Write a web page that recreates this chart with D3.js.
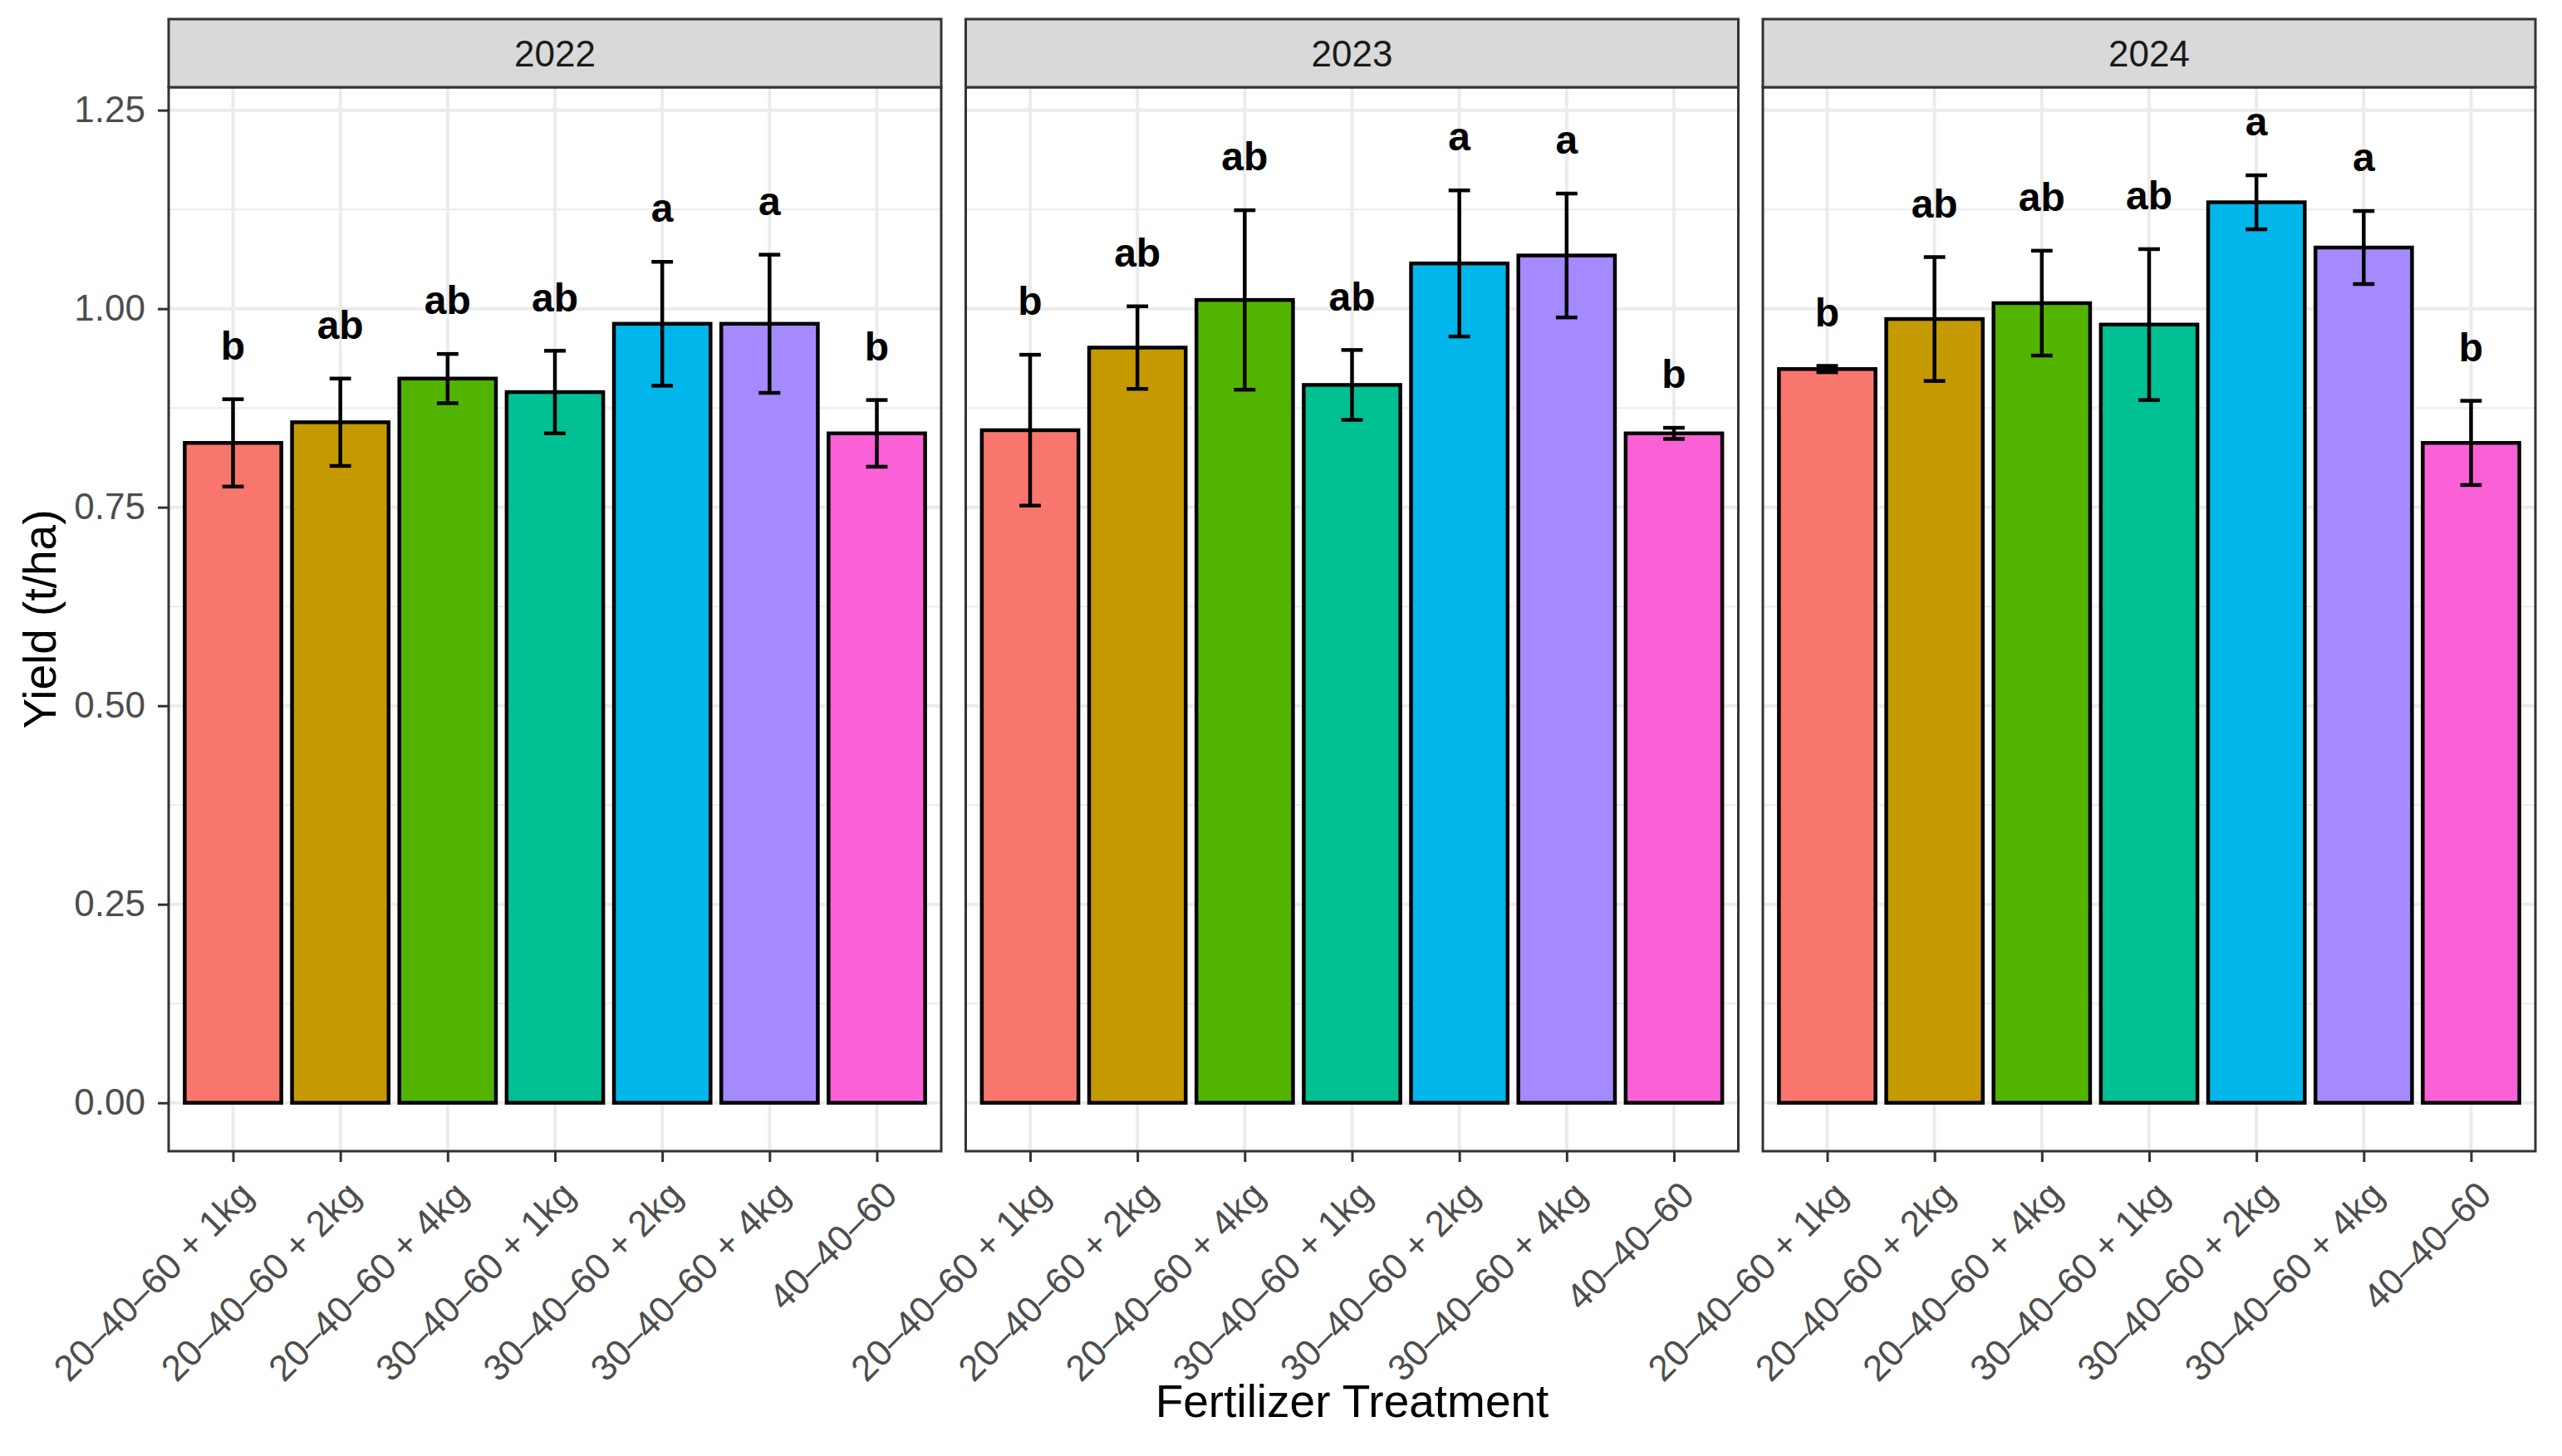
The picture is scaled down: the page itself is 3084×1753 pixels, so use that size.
<!DOCTYPE html>
<html lang="en"><head>
<meta charset="utf-8">
<title>Yield by fertilizer treatment</title>
<script src="https://cdn.jsdelivr.net/npm/d3@7"></script>
<style>
  body { margin: 0; background: #fff; }
  text { font-family: "Liberation Sans", Arial, Helvetica, sans-serif; }
</style>
</head>
<body>
<script type="text/javascript">

var width = 3084;
var height = 1753;

// data
var years = ["2022", "2023", "2024"];
var treatments = ["20–40–60 + 1kg", "20–40–60 + 2kg", "20–40–60 + 4kg",
                  "30–40–60 + 1kg", "30–40–60 + 2kg", "30–40–60 + 4kg", "40–40–60"];
var colors = ["#F8766D", "#C49A00", "#53B400", "#00C094", "#00B6EB", "#A58AFF", "#FB61D7"];

var mean2022 = [0.831, 0.857, 0.912, 0.895, 0.981, 0.981, 0.843];
var se2022   = [0.055, 0.055, 0.031, 0.052, 0.078, 0.087, 0.042];
var grp2022  = ["b", "ab", "ab", "ab", "a", "a", "b"];

var mean2023 = [0.847, 0.951, 1.011, 0.904, 1.057, 1.067, 0.843];
var se2023   = [0.095, 0.052, 0.113, 0.044, 0.092, 0.078, 0.007];
var grp2023  = ["b", "ab", "ab", "ab", "a", "a", "b"];

var mean2024 = [0.924, 0.987, 1.007, 0.980, 1.134, 1.077, 0.831];
var se2024   = [0.004, 0.078, 0.066, 0.095, 0.034, 0.046, 0.053];
var grp2024  = ["b", "ab", "ab", "ab", "a", "a", "b"];

var yTicks = [0, 0.25, 0.5, 0.75, 1.0, 1.25];
var yMinor = [0.125, 0.375, 0.625, 0.875, 1.125];

var means = [mean2022, mean2023, mean2024];
var ses = [se2022, se2023, se2024];
var groups = [grp2022, grp2023, grp2024];

var labelOffset = 0.05;

// layout
var panelLeft = 203, panelW = 930, panelGap = 29.5;
var stripTop = 23, panelTop = 105, panelBottom = 1386;

var svg = d3.select("body").append("svg")
            .attr("width", width)
            .attr("height", height);

svg.append("rect").attr("width", width).attr("height", height).attr("fill", "#fff");

// y range like ggplot: include label positions, expand 5%
var maxLab = d3.max(means.map((m, i) => d3.max(m.map((v, j) => v + ses[i][j] + labelOffset))));
var y = d3.scaleLinear()
    .domain([-0.05 * maxLab, 1.05 * maxLab])
    .range([panelBottom, panelTop]);

var x = d3.scalePoint()
    .domain(treatments)
    .range([0, panelW])
    .padding(0.6);
var step = x.step();

years.forEach((yr, i) => {
    var g = svg.append("g")
        .attr("transform", "translate(" + (panelLeft + i * (panelW + panelGap)) + ",0)");

    var rows = treatments.map((t, j) => ({
        t: t, m: means[i][j], se: ses[i][j], grp: groups[i][j], col: colors[j]
    }));

    // grid
    g.selectAll(".minor").data(yMinor).enter().append("line")
        .attr("x1", 0).attr("x2", panelW)
        .attr("y1", d => y(d)).attr("y2", d => y(d))
        .attr("stroke", "#EBEBEB").attr("stroke-width", 2);
    g.selectAll(".major").data(yTicks).enter().append("line")
        .attr("x1", 0).attr("x2", panelW)
        .attr("y1", d => y(d)).attr("y2", d => y(d))
        .attr("stroke", "#EBEBEB").attr("stroke-width", 4);
    g.selectAll(".vgrid").data(treatments).enter().append("line")
        .attr("x1", d => x(d)).attr("x2", d => x(d))
        .attr("y1", panelTop).attr("y2", panelBottom)
        .attr("stroke", "#EBEBEB").attr("stroke-width", 4);

    // bars
    g.selectAll(".bar").data(rows).enter().append("rect")
        .attr("x", d => x(d.t) - 0.45 * step)
        .attr("width", 0.9 * step)
        .attr("y", d => y(d.m))
        .attr("height", d => y(0) - y(d.m))
        .attr("fill", d => d.col)
        .attr("stroke", "#000")
        .attr("stroke-width", 4.5);

    // error bars
    var eb = g.selectAll(".eb").data(rows).enter().append("g");
    eb.append("line")
        .attr("x1", d => x(d.t)).attr("x2", d => x(d.t))
        .attr("y1", d => y(d.m + d.se)).attr("y2", d => y(d.m - d.se))
        .attr("stroke", "#000").attr("stroke-width", 4.5);
    eb.append("line")
        .attr("x1", d => x(d.t) - 0.1 * step).attr("x2", d => x(d.t) + 0.1 * step)
        .attr("y1", d => y(d.m + d.se)).attr("y2", d => y(d.m + d.se))
        .attr("stroke", "#000").attr("stroke-width", 4.5);
    eb.append("line")
        .attr("x1", d => x(d.t) - 0.1 * step).attr("x2", d => x(d.t) + 0.1 * step)
        .attr("y1", d => y(d.m - d.se)).attr("y2", d => y(d.m - d.se))
        .attr("stroke", "#000").attr("stroke-width", 4.5);

    // group letters
    g.selectAll(".lab").data(rows).enter().append("text")
        .attr("x", d => x(d.t))
        .attr("y", d => y(d.m + d.se + labelOffset))
        .attr("text-anchor", "middle")
        .attr("font-size", 48)
        .attr("font-weight", "bold")
        .attr("fill", "#000")
        .text(d => d.grp);

    // panel border
    g.append("rect")
        .attr("x", 0).attr("y", panelTop)
        .attr("width", panelW).attr("height", panelBottom - panelTop)
        .attr("fill", "none").attr("stroke", "#333333").attr("stroke-width", 3);

    // strip
    g.append("rect")
        .attr("x", 0).attr("y", stripTop)
        .attr("width", panelW).attr("height", panelTop - stripTop)
        .attr("fill", "#D9D9D9").attr("stroke", "#333333").attr("stroke-width", 3);
    g.append("text")
        .attr("x", panelW / 2).attr("y", (stripTop + panelTop) / 2)
        .attr("dy", "0.36em")
        .attr("text-anchor", "middle")
        .attr("font-size", 44)
        .attr("fill", "#1A1A1A")
        .text(yr);

    // x axis
    var xa = g.append("g")
        .attr("transform", "translate(0," + panelBottom + ")")
        .call(d3.axisBottom(x).tickSize(13).tickSizeOuter(0));
    xa.select(".domain").remove();
    xa.selectAll(".tick line").attr("stroke", "#333333").attr("stroke-width", 3);
    xa.selectAll(".tick text")
        .attr("x", 0).attr("y", 0).attr("dy", "0.72em")
        .attr("text-anchor", "end")
        .attr("transform", "translate(4,33) rotate(-45)")
        .attr("font-size", 44)
        .attr("font-family", "Liberation Sans, Arial, sans-serif")
        .attr("fill", "#4D4D4D");

    if (i === 0) {
        var ya = g.append("g")
            .call(d3.axisLeft(y).tickValues(yTicks).tickFormat(d3.format(".2f"))
                  .tickSize(13).tickPadding(15));
        ya.select(".domain").remove();
        ya.selectAll(".tick line").attr("stroke", "#333333").attr("stroke-width", 3);
        ya.selectAll(".tick text")
            .attr("font-size", 44)
            .attr("font-family", "Liberation Sans, Arial, sans-serif")
            .attr("fill", "#4D4D4D");
    }
});

// axis titles
svg.append("text")
    .attr("x", panelLeft + (3 * panelW + 2 * panelGap) / 2)
    .attr("y", 1706)
    .attr("text-anchor", "middle")
    .attr("font-size", 55)
    .attr("fill", "#000")
    .text("Fertilizer Treatment");

svg.append("text")
    .attr("transform", "translate(67," + (panelTop + panelBottom) / 2 + ") rotate(-90)")
    .attr("text-anchor", "middle")
    .attr("font-size", 55)
    .attr("fill", "#000")
    .text("Yield (t/ha)");

</script>
</body></html>
